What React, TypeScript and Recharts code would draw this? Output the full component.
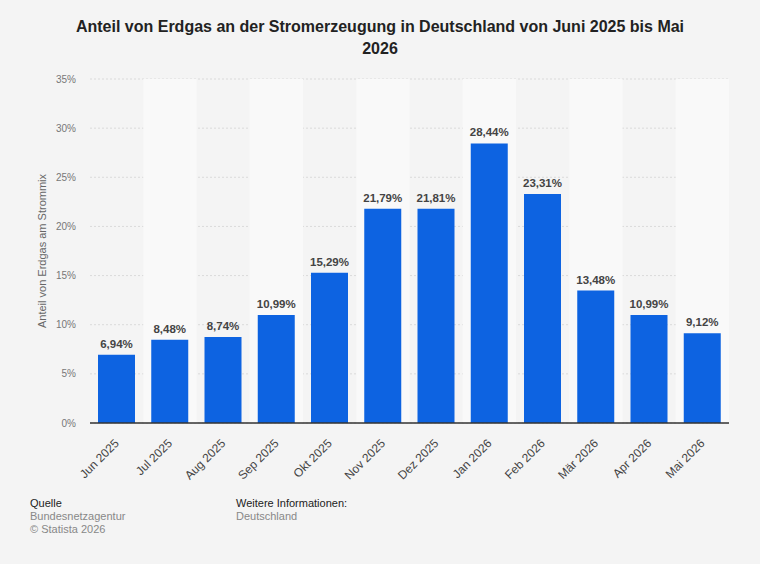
import { BarChart, Bar, XAxis, YAxis, CartesianGrid, LabelList, ReferenceArea } from 'recharts';

const months = ['Jun 2025', 'Jul 2025', 'Aug 2025', 'Sep 2025', 'Okt 2025', 'Nov 2025', 'Dez 2025', 'Jan 2026', 'Feb 2026', 'Mär 2026', 'Apr 2026', 'Mai 2026'];
const shares = [6.94, 8.48, 8.74, 10.99, 15.29, 21.79, 21.81, 28.44, 23.31, 13.48, 10.99, 9.12];
const yTicks = [0, 5, 10, 15, 20, 25, 30, 35];

const data = months.map((m, i) => ({ month: m, value: shares[i] }));
const stripes = months.filter((_, i) => i % 2 === 1);

const FONT = '"Liberation Sans", Arial, Helvetica, sans-serif';

const fmt = (v: number) => v.toFixed(2).replace('.', ',') + '%';

const MonthTick = (props: any) => {
    const { x, y, payload } = props;
    return (
        <text
            transform={`translate(${x + 3},${y + 13}) rotate(-45)`}
            textAnchor="end"
            fontSize={12}
            fill="#444"
            fontFamily={FONT}
        >
            {payload.value}
        </text>
    );
};

const App = () => {
    return (
        <div style={{ position: 'fixed', left: 0, top: 0, width: 760, height: 564, background: '#f4f4f4', fontFamily: FONT }}>
            <BarChart
                width={760}
                height={564}
                data={data}
                margin={{ top: 79, right: 31, bottom: 81, left: 30 }}
                barSize={37}
            >
                {stripes.map((m) => (
                    <ReferenceArea key={m} x1={m} x2={m} y1={0} y2={35} fill="#f9f9f9" fillOpacity={1} stroke="none" ifOverflow="visible" />
                ))}
                <CartesianGrid vertical={false} stroke="#dadada" strokeDasharray="2 2" />
                <XAxis
                    dataKey="month"
                    interval={0}
                    height={60}
                    tickLine={false}
                    axisLine={{ stroke: '#333', strokeWidth: 1.5 }}
                    tick={<MonthTick />}
                />
                <YAxis
                    width={60}
                    domain={[0, 35]}
                    ticks={yTicks}
                    tickFormatter={(v: number) => `${v}%`}
                    tickLine={false}
                    axisLine={false}
                    tickMargin={8}
                    tick={{ fontSize: 10, fill: '#777', fontFamily: FONT }}
                />
                <Bar dataKey="value" fill="#0d63e1" isAnimationActive={false}>
                    <LabelList
                        dataKey="value"
                        position="top"
                        offset={7}
                        formatter={(v: any) => fmt(Number(v))}
                        style={{ fontSize: 11.5, fontWeight: 700, fill: '#444', fontFamily: FONT }}
                    />
                </Bar>
            </BarChart>

            <div style={{ position: 'absolute', left: 0, top: 16, width: 760, textAlign: 'center', fontSize: 16, fontWeight: 700, color: '#222', lineHeight: '22px' }}>
                Anteil von Erdgas an der Stromerzeugung in Deutschland von Juni 2025 bis Mai
                <br />
                2026
            </div>

            <div style={{ position: 'absolute', left: 42, top: 251, transform: 'translate(-50%, -50%) rotate(-90deg)', whiteSpace: 'nowrap', fontSize: 11, color: '#666' }}>
                Anteil von Erdgas am Strommix
            </div>

            <div style={{ position: 'absolute', left: 30, top: 497, fontSize: 11, lineHeight: '13px' }}>
                <div style={{ color: '#222' }}>Quelle</div>
                <div style={{ color: '#888' }}>Bundesnetzagentur</div>
                <div style={{ color: '#888' }}>© Statista 2026</div>
            </div>
            <div style={{ position: 'absolute', left: 236, top: 497, fontSize: 11, lineHeight: '13px' }}>
                <div style={{ color: '#222' }}>Weitere Informationen:</div>
                <div style={{ color: '#888' }}>Deutschland</div>
            </div>
        </div>
    );
};

export default App;
